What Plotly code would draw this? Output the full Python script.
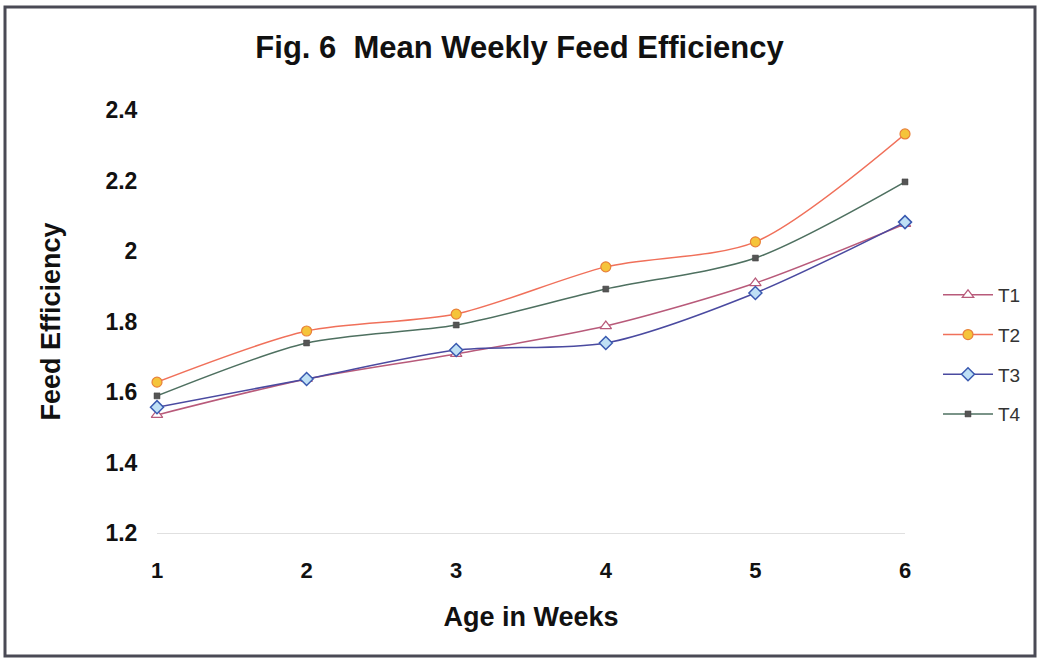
import plotly.graph_objects as go

weeks = [1, 2, 3, 4, 5, 6]
t1 = [1.535, 1.637, 1.708, 1.787, 1.909, 2.077]
t2 = [1.628, 1.773, 1.821, 1.955, 2.026, 2.332]
t3 = [1.557, 1.637, 1.719, 1.739, 1.881, 2.082]
t4 = [1.589, 1.739, 1.790, 1.892, 1.980, 2.196]
y_ticks = [1.2, 1.4, 1.6, 1.8, 2.0, 2.2, 2.4]
y_ticktext = ["1.2", "1.4", "1.6", "1.8", "2", "2.2", "2.4"]

FONT = "Liberation Sans, Arial, sans-serif"

series = [
    ("T1", t1, "#b85a7a", dict(symbol="triangle-up", size=10, color="white", line=dict(color="#b85a7a", width=1.2))),
    ("T2", t2, "#f0705a", dict(symbol="circle", size=10, color="#f5c43a", line=dict(color="#e8803a", width=1.2))),
    ("T3", t3, "#4a4aa0", dict(symbol="diamond", size=10, color="#bfe0f5", line=dict(color="#3a5ab0", width=1.5))),
    ("T4", t4, "#4e7060", dict(symbol="square", size=6, color="#555555", line=dict(color="#444444", width=0.5))),
]

fig = go.Figure()
for name, ys, col, mk in series:
    fig.add_trace(go.Scatter(
        x=weeks, y=ys, name=name, mode="lines+markers",
        line=dict(color=col, width=1.5, shape="spline", smoothing=0.8),
        marker=mk, legendgroup=name, cliponaxis=False,
    ))

fig.update_layout(
    width=1039, height=660,
    paper_bgcolor="white", plot_bgcolor="white",
    margin=dict(l=157, r=134, t=110, b=127),
    font=dict(family=FONT, color="#111111"),
    title=dict(text="Fig. 6\u00a0 Mean Weekly Feed Efficiency", x=0.5, xanchor="center",
               y=1 - 47 / 660, yanchor="middle",
               font=dict(size=31, color="#111111", weight="bold")),
    showlegend=True,
    legend=dict(x=(938 - 157) / 748, xanchor="left", y=(533 - 276) / 423, yanchor="top",
                font=dict(size=19, color="#333333"), tracegroupgap=12, itemwidth=50,
                bgcolor="rgba(0,0,0,0)"),
    xaxis=dict(range=[1, 6], tickvals=weeks, ticktext=[str(w) for w in weeks],
               showgrid=False, zeroline=False, showline=True, linecolor="#e0e0e0", linewidth=1,
               ticks="outside", ticklen=18, tickcolor="rgba(0,0,0,0)",
               tickfont=dict(size=22, family=FONT, weight="bold"),
               title=dict(text="Age in Weeks", font=dict(size=27, weight="bold"), standoff=24)),
    yaxis=dict(range=[1.2, 2.4], tickvals=y_ticks, ticktext=y_ticktext,
               showgrid=False, zeroline=False, showline=False,
               ticks="outside", ticklen=14, tickcolor="rgba(0,0,0,0)",
               tickfont=dict(size=23, family=FONT, weight="bold"),
               title=dict(text="Feed Efficiency", font=dict(size=27, weight="bold"), standoff=36)),
    shapes=[dict(type="rect", xref="paper", yref="paper",
                 x0=(5 - 157) / 748, x1=(1035 - 157) / 748,
                 y0=(533 - 656) / 423, y1=(533 - 7) / 423,
                 line=dict(color="#4a4a55", width=3), fillcolor="rgba(0,0,0,0)", layer="below")],
)

fig.write_html("out.html")
